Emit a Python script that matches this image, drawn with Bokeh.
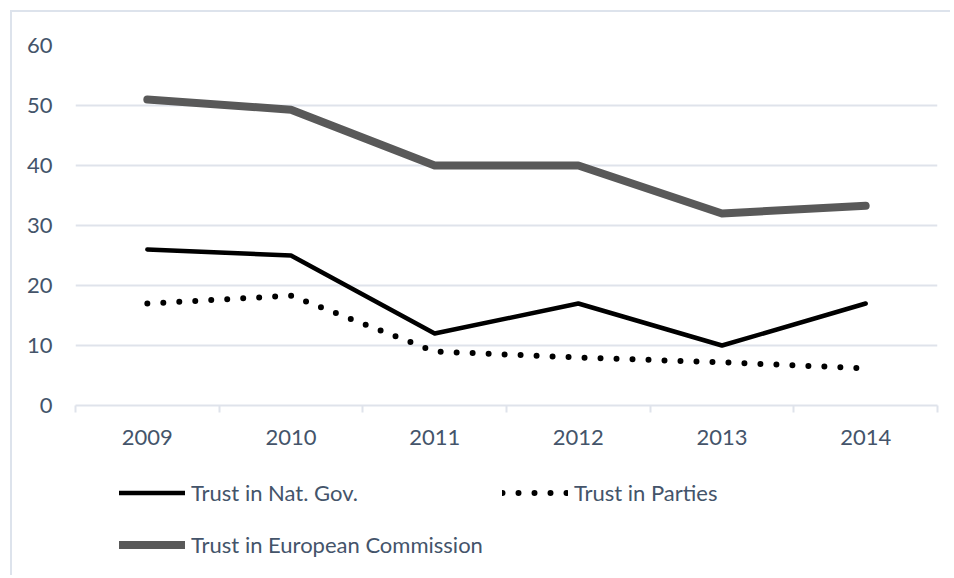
from bokeh.plotting import figure
from bokeh.layouts import column
from bokeh.models import Range1d, FixedTicker, Legend, LegendItem
from bokeh.embed import file_html
from bokeh.resources import INLINE

years = ["2009", "2010", "2011", "2012", "2013", "2014"]
trust_nat_gov = [26, 25, 12, 17, 10, 17]
trust_parties = [17, 18.3, 9, 8, 7.2, 6.2]
trust_eu_commission = [51, 49.3, 40, 40, 32, 33.3]
y_ticks = [0, 10, 20, 30, 40, 50, 60]
series_labels = ["Trust in Nat. Gov.", "Trust in Parties", "Trust in European Commission"]

FONT = "Lato"
TXT = "#44546a"
GRID = "#dfe3eb"
FS = "22px"

x_idx = list(range(len(years)))
series = [trust_nat_gov, trust_parties, trust_eu_commission]

styles = [
    dict(line_color="black", line_width=4.5, line_cap="round", line_join="round"),
    dict(line_color="black", line_width=6, line_cap="round", line_join="round", line_dash="0 16"),
    dict(line_color="#595959", line_width=8, line_cap="round", line_join="round"),
]

p = figure(width=950, height=460, output_backend="svg", toolbar_location=None,
           x_range=Range1d(-0.5, len(years) - 0.5), y_range=Range1d(0, 60),
           min_border_left=75, min_border_right=13, min_border_top=45, min_border_bottom=55)
p.outline_line_color = None
p.background_fill_color = "white"
p.border_fill_color = None

# x axis
xa = p.xaxis[0]
xa.ticker = FixedTicker(ticks=x_idx, minor_ticks=[i - 0.5 for i in range(len(years) + 1)])
xa.major_label_overrides = {i: y for i, y in zip(x_idx, years)}
xa.major_tick_out = 0
xa.major_tick_in = 0
xa.minor_tick_out = 7
xa.minor_tick_in = 0
xa.minor_tick_line_color = GRID
xa.minor_tick_line_width = 2
xa.axis_line_color = GRID
xa.axis_line_width = 2
xa.major_label_text_font = FONT
xa.major_label_text_font_size = FS
xa.major_label_text_color = TXT
xa.major_label_standoff = 17

# y axis
ya = p.yaxis[0]
ya.ticker = FixedTicker(ticks=y_ticks)
ya.axis_line_color = None
ya.major_tick_line_color = None
ya.minor_tick_line_color = None
ya.major_tick_out = 0
ya.major_label_text_font = FONT
ya.major_label_text_font_size = FS
ya.major_label_text_color = TXT
ya.major_label_standoff = 23

p.xgrid.visible = False
p.ygrid.ticker = FixedTicker(ticks=y_ticks)
p.ygrid.grid_line_color = GRID
p.ygrid.grid_line_width = 2

for vals, st in zip(series, styles):
    p.line(x_idx, vals, **st)

# legend figure (its lines lie outside its visible ranges; only the legend shows)
lg = figure(width=950, height=115, output_backend="svg", toolbar_location=None,
            min_border=0, x_range=Range1d(100, 101), y_range=Range1d(100, 101))
lg.axis.visible = False
lg.grid.visible = False
lg.outline_line_color = None
lg.background_fill_color = None
lg.border_fill_color = None
items = []
for lab, vals, st in zip(series_labels, series, styles):
    r = lg.line(x_idx, vals, **st)
    items.append(LegendItem(label=lab, renderers=[r]))

legend = Legend(items=items, orientation="horizontal", ncols=2, location=(44, 14),
                glyph_width=66, glyph_height=33, spacing=19, label_standoff=6,
                padding=0, margin=0, border_line_color=None, background_fill_alpha=0,
                label_text_font=FONT, label_text_font_size=FS, label_text_color=TXT)
lg.add_layout(legend, "center")

layout = column(p, lg, spacing=0)
layout.styles = {"box-shadow": "inset 10px 10px 0 0 #ffffff, inset 12px 12px 0 0 #dde3ec"}

open("out.html", "w").write(file_html(layout, INLINE))
